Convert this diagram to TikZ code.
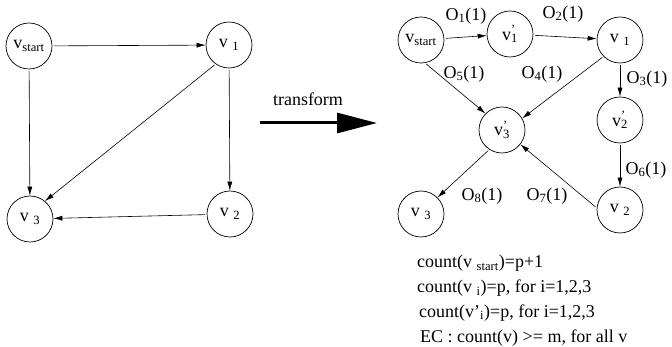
\documentclass[tikz,border=0pt]{standalone}
\usepackage{fontspec}
\setmainfont{Liberation Serif}
\usetikzlibrary{arrows.meta}

\begin{document}
\begin{tikzpicture}[x=1pt,y=-1pt,font=\fontsize{18}{22}\selectfont,
    vert/.style={draw,circle,minimum size=46pt,inner sep=0pt,line width=0.7pt},
    edge/.style={-{Latex[length=9pt,width=5pt]},line width=0.6pt,shorten <=1.5pt},
    txt/.style={inner sep=0pt}]
            \useasboundingbox (0,0) rectangle (672,347);
            \node[vert] (s) at (29,46) {v\textsubscript{start}};
            \node[vert] (a1) at (229,45) {v \textsubscript{1}};
            \node[vert] (a2) at (230,214) {v \textsubscript{2}};
            \node[vert] (a3) at (30,219) {v \textsubscript{3}};
            \draw[edge] (s) -- (a1);
            \draw[edge] (s) -- (a3);
            \draw[edge] (a1) -- (a2);
            \draw[edge] (a1.235) -- (a3.50);
            \draw[edge] (a2) -- (a3);
            \coordinate (t0) at (260,123);
            \coordinate (t1) at (377,123);
            \draw[line width=3pt,-{Triangle[length=40pt,width=20pt]}] (t0) -- (t1);
            \node[txt] (tr) at (308,99) {transform};
            \node[vert] (rs) at (421,40) {v\textsubscript{start}};
            \node[vert] (r1p) at (510,34) {v\rlap{\textsuperscript{’}}\textsubscript{1}};
            \node[vert] (r1) at (620,40) {v \textsubscript{1}};
            \node[vert] (r2p) at (620,120) {v\rlap{\textsuperscript{’}}\textsubscript{2}};
            \node[vert] (r3p) at (502,130) {v\rlap{\textsuperscript{’}}\textsubscript{3}};
            \node[vert] (r2) at (620,210) {v \textsubscript{2}};
            \node[vert] (r3) at (421,214) {v \textsubscript{3}};
            \draw[edge] (rs) -- (r1p);
            \draw[edge] (r1p) -- (r1);
            \draw[edge] (rs.280) -- (r3p.135);
            \draw[edge] (r1.225) -- (r3p.30);
            \draw[edge] (r1) -- (r2p);
            \draw[edge] (r2p) -- (r2);
            \draw[edge] (r2.175) -- (r3p.-38);
            \draw[edge] (r3p.237) -- (r3.45);
            \node[txt] (o1) at (466,16) {O\textsubscript{1}(1)};
            \node[txt] (o2) at (563,14) {O\textsubscript{2}(1)};
            \node[txt] (o3) at (647,79) {O\textsubscript{3}(1)};
            \node[txt] (o4) at (542,74) {O\textsubscript{4}(1)};
            \node[txt] (o5) at (464,74) {O\textsubscript{5}(1)};
            \node[txt] (o6) at (646,170) {O\textsubscript{6}(1)};
            \node[txt] (o7) at (547,196) {O\textsubscript{7}(1)};
            \node[txt] (o8) at (482,196) {O\textsubscript{8}(1)};
            \node[txt,anchor=base west] (c1) at (417,268) {count(v \textsubscript{start})=p+1};
            \node[txt,anchor=base west] (c2) at (417,293) {count(v \textsubscript{i})=p, for i=1,2,3};
            \node[txt,anchor=base west] (c3) at (419,317) {count(v’\textsubscript{i})=p, for i=1,2,3};
            \node[txt,anchor=base west] (c4) at (420,342) {EC : count(v) >= m, for all v};
        \end{tikzpicture}
\end{document}
